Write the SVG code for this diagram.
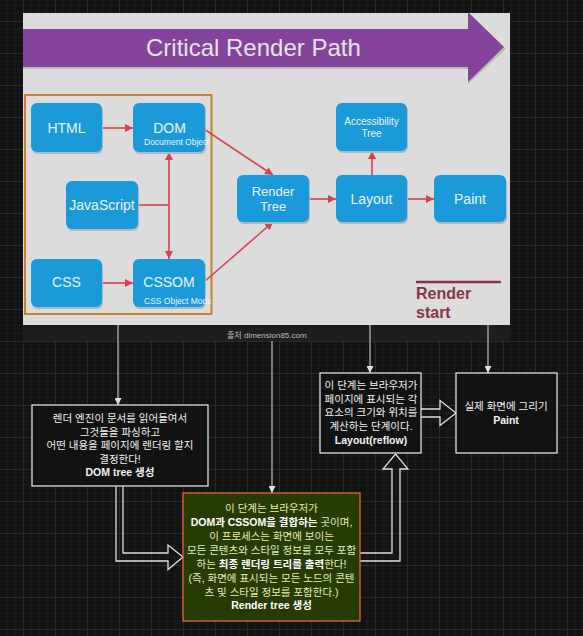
<svg xmlns="http://www.w3.org/2000/svg" width="583" height="636" viewBox="0 0 583 636">
<defs>
<pattern id="grid" x="23" y="21" width="32" height="32" patternUnits="userSpaceOnUse">
<path d="M8,0V32M16,0V32M24,0V32M0,8H32M0,16H32M0,24H32" stroke="#1c1c1c" stroke-width="1" fill="none"/>
<path d="M0.5,0V32M0,0.5H32" stroke="#2a2a2a" stroke-width="1" fill="none"/>
</pattern>
<marker id="ar" viewBox="0 0 8 8" refX="8" refY="4" markerWidth="8" markerHeight="8" markerUnits="userSpaceOnUse" orient="auto-start-reverse">
<path d="M0,0L8,4L0,8z" fill="#d4434f"/>
</marker>
<marker id="aw" viewBox="0 0 7 7" refX="7" refY="3.5" markerWidth="7" markerHeight="7" markerUnits="userSpaceOnUse" orient="auto">
<path d="M0,0L7,3.5L0,7z" fill="#e0e0e0"/>
</marker>
<clipPath id="cDom"><rect x="133" y="100" width="78" height="55"/></clipPath>
<clipPath id="cCssom"><rect x="133" y="256" width="78" height="55"/></clipPath>
<style>
text{font-family:"Liberation Sans","Noto Sans CJK KR",sans-serif}
.blue{fill:#1a9ad8}
.shadow{fill:#aeb8bf}
.bt{fill:#eaf4fb;font-size:14px;text-anchor:middle}
.bt2{fill:#eaf4fb;font-size:13px;text-anchor:middle}
.bt3{fill:#eaf4fb;font-size:10px;text-anchor:middle}
.small{fill:#eaf4fb;font-size:8.5px}
.red{stroke:#d4434f;stroke-width:1.6;fill:none}
.wl{stroke:#dedede;stroke-width:1;fill:none}
.box{fill:#121212;stroke:#dedede;stroke-width:1.3}
.kt{fill:#f2f2f2;font-size:10.5px;text-anchor:middle}
.b{font-weight:bold}
.hollow{fill:none;stroke:#dedede;stroke-width:1.3;stroke-linejoin:miter}
.rt{fill:#ececb0;font-size:10.5px;text-anchor:middle}
.rw{fill:#ffffff;font-weight:bold}
</style>
</defs>
<rect width="583" height="636" fill="#131313"/>
<rect width="583" height="636" fill="url(#grid)"/>

<g id="screenshot">
<rect x="23" y="13" width="487" height="312" fill="#dcdcdc"/>
<rect x="23" y="325" width="487" height="16" fill="#1e1e1e"/>
<text x="227" y="338" font-size="8" fill="#bdbdbd">출처  dimension85.com</text>
</g>

<g id="banner">
<polygon points="23,31 468,31 468,14 506,49 468,84 468,69 23,69" fill="#9a9a9a" opacity="0.5"/>
<polygon points="23,29 468,29 468,12 504,47 468,82 468,67 23,67" fill="#85449b"/>
<text x="146" y="55.5" font-size="24" fill="#e4e4e4">Critical Render Path</text>
</g>

<g id="group-box">
<rect x="25" y="95" width="186.5" height="219" fill="none" stroke="#c7832c" stroke-width="2"/>
</g>

<g id="connectors">
<line class="red" x1="102" y1="128" x2="133" y2="128" marker-end="url(#ar)"/>
<line class="red" x1="102" y1="283" x2="133" y2="283" marker-end="url(#ar)"/>
<line class="red" x1="138" y1="205" x2="169" y2="205"/>
<line class="red" x1="169" y1="152" x2="169" y2="259" marker-start="url(#ar)" marker-end="url(#ar)"/>
<line class="red" x1="204" y1="129" x2="273" y2="175" marker-end="url(#ar)"/>
<line class="red" x1="204" y1="282" x2="273" y2="222" marker-end="url(#ar)"/>
<line class="red" x1="309" y1="199" x2="336" y2="199" marker-end="url(#ar)"/>
<line class="red" x1="407" y1="199" x2="434" y2="199" marker-end="url(#ar)"/>
<line class="red" x1="372" y1="175" x2="372" y2="151" marker-end="url(#ar)"/>
<line class="wl" x1="118" y1="325" x2="118" y2="405" marker-end="url(#aw)"/>
<line class="wl" x1="272" y1="341" x2="272" y2="493" marker-end="url(#aw)"/>
<line class="wl" x1="370" y1="308" x2="370" y2="373" marker-end="url(#aw)"/>
<line class="wl" x1="488" y1="308" x2="488" y2="373" marker-end="url(#aw)"/>
<path class="hollow" d="M116,486L116,561L168,561L168,569.5L183,557L168,545L168,553L123,553L123,486"/>
<path class="hollow" d="M360,553L392,553L392,469L383,469L395.5,454L408,469L400,469L400,561L360,561"/>
<path class="hollow" d="M421,409L440,409L440,400.5L456,413L440,425.5L440,417L421,417"/>
</g>

<g id="html">
<rect class="shadow" x="32" y="105" width="71" height="49" rx="6"/>
<rect class="blue" x="31" y="103" width="71" height="49" rx="6"/>
<text class="bt" x="66.5" y="133">HTML</text>
</g>
<g id="dom">
<rect class="shadow" x="134" y="105" width="72" height="49" rx="6"/>
<rect class="blue" x="133" y="103" width="72" height="49" rx="6"/>
<text class="bt" x="169.5" y="133">DOM</text>
<text class="small" x="144" y="144.5" clip-path="url(#cDom)">Document Object Model</text>
</g>
<g id="javascript">
<rect class="shadow" x="67" y="183" width="72" height="48" rx="6"/>
<rect class="blue" x="66" y="181" width="72" height="48" rx="6"/>
<text class="bt" x="102" y="210">JavaScript</text>
</g>
<g id="css">
<rect class="shadow" x="32" y="261" width="71" height="48" rx="6"/>
<rect class="blue" x="31" y="259" width="71" height="48" rx="6"/>
<text class="bt" x="66.5" y="287">CSS</text>
</g>
<g id="cssom">
<rect class="shadow" x="134" y="261" width="72" height="48" rx="6"/>
<rect class="blue" x="133" y="259" width="72" height="48" rx="6"/>
<text class="bt" x="169" y="287">CSSOM</text>
<text class="small" x="144" y="304" clip-path="url(#cCssom)">CSS Object Model</text>
</g>
<g id="render-tree">
<rect class="shadow" x="238" y="177" width="72" height="47" rx="6"/>
<rect class="blue" x="237" y="175" width="72" height="47" rx="6"/>
<text class="bt2" x="273" y="196">Render</text>
<text class="bt2" x="273" y="211">Tree</text>
</g>
<g id="layout">
<rect class="shadow" x="337" y="177" width="71" height="47" rx="6"/>
<rect class="blue" x="336" y="175" width="71" height="47" rx="6"/>
<text class="bt" x="371.5" y="204">Layout</text>
</g>
<g id="paint">
<rect class="shadow" x="435" y="177" width="72" height="47" rx="6"/>
<rect class="blue" x="434" y="175" width="72" height="47" rx="6"/>
<text class="bt" x="470" y="204">Paint</text>
</g>
<g id="accessibility-tree">
<rect class="shadow" x="337" y="105" width="71" height="48" rx="6"/>
<rect class="blue" x="336" y="103" width="71" height="48" rx="6"/>
<text class="bt3" x="371.5" y="125">Accessibility</text>
<text class="bt3" x="371.5" y="137">Tree</text>
</g>
<g id="render-start">
<line x1="416" y1="282" x2="501" y2="282" stroke="#8b3343" stroke-width="2.5"/>
<text x="416" y="299" font-size="16" font-weight="bold" fill="#8a3346">Render</text>
<text x="416" y="318" font-size="16" font-weight="bold" fill="#8a3346">start</text>
</g>

<g id="dom-tree-note">
<rect class="box" x="32" y="405" width="176" height="81"/>
<text class="kt" x="120" y="422">렌더 엔진이 문서를 읽어들여서</text>
<text class="kt" x="120" y="435.5">그것들을 파싱하고</text>
<text class="kt" x="120" y="449">어떤 내용을 페이지에 렌더링 할지</text>
<text class="kt" x="120" y="462.5">결정한다!</text>
<text class="kt b" x="120" y="476">DOM tree 생성</text>
</g>
<g id="layout-note">
<rect class="box" x="320" y="373" width="101" height="80"/>
<text class="kt" x="371" y="389">이 단계는 브라우저가</text>
<text class="kt" x="371" y="402.5">페이지에 표시되는 각</text>
<text class="kt" x="371" y="416">요소의 크기와 위치를</text>
<text class="kt" x="371" y="430">계산하는 단계이다.</text>
<text class="kt b" x="371" y="444">Layout(reflow)</text>
</g>
<g id="paint-note">
<rect class="box" x="456" y="373" width="101" height="80"/>
<text class="kt" x="506" y="410">실제 화면에 그리기</text>
<text class="kt b" x="506" y="423.5">Paint</text>
</g>
<g id="render-tree-note">
<rect x="183" y="493" width="177" height="128" fill="#263c04" stroke="#e8623e" stroke-width="1.3"/>
<text class="rt" x="271.5" y="512">이 단계는 브라우저가</text>
<text class="rt" x="271.5" y="526"><tspan class="rw">DOM과 CSSOM을 결합하는</tspan> 곳이며,</text>
<text class="rt" x="271.5" y="540">이 프로세스는 화면에 보이는</text>
<text class="rt" x="271.5" y="554">모든 콘텐츠와 스타일 정보를 모두 포함</text>
<text class="rt" x="271.5" y="568">하는 <tspan class="rw">최종 렌더링 트리를 출력</tspan>한다!</text>
<text class="rt" x="271.5" y="581.5">(즉, 화면에 표시되는 모든 노드의 콘텐</text>
<text class="rt" x="271.5" y="595.5">츠 및 스타일 정보를 포함한다.)</text>
<text class="rt rw" x="271.5" y="609">Render tree 생성</text>
</g>
</svg>
